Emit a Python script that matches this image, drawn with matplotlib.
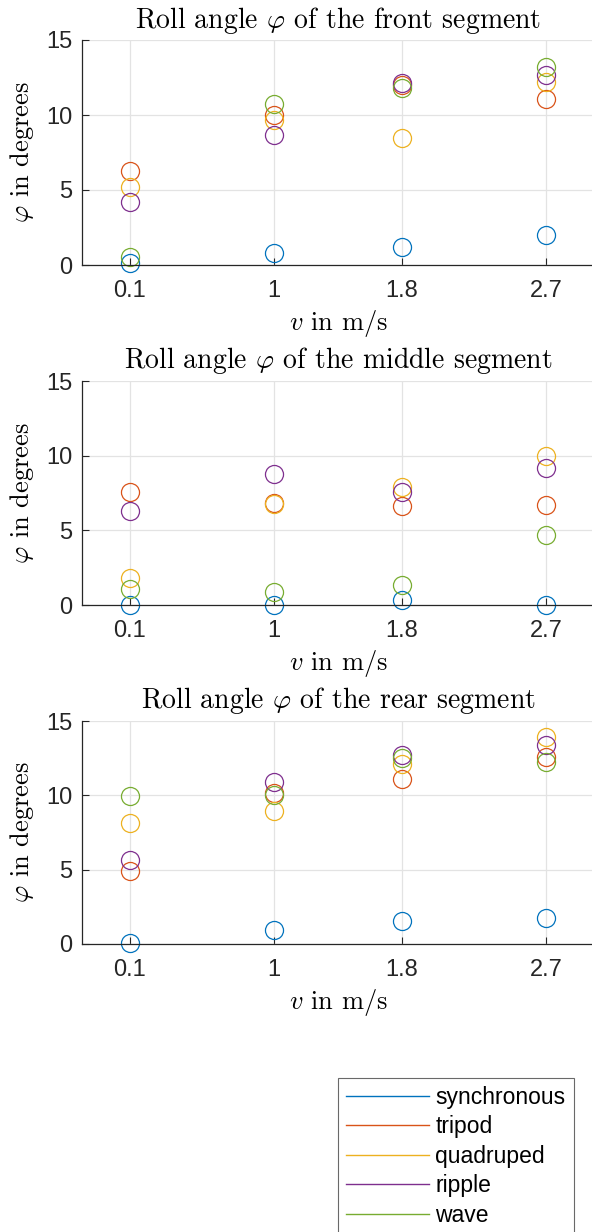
import matplotlib
matplotlib.use('Agg')
import matplotlib.pyplot as plt
from matplotlib.lines import Line2D

plt.rcParams['font.family'] = ['Liberation Sans', 'DejaVu Sans']
plt.rcParams['mathtext.fontset'] = 'cm'

speeds = [0.1, 1, 1.8, 2.7]
gaits = ['synchronous', 'tripod', 'quadruped', 'ripple', 'wave']
colors = ['#0072BD', '#D95319', '#EDB120', '#7E2F8E', '#77AC30']
segments = ['front', 'middle', 'rear']

# roll angle in degrees, one list per gait, values per speed
front = {
    'synchronous': [0.13, 0.8, 1.18, 2.0],
    'tripod': [6.29, 10.0, 12.02, 11.04],
    'quadruped': [5.22, 9.67, 8.44, 12.18],
    'ripple': [4.22, 8.64, 12.11, 12.69],
    'wave': [0.51, 10.73, 11.8, 13.22],
}
middle = {
    'synchronous': [0.0, 0.0, 0.31, 0.0],
    'tripod': [7.6, 6.82, 6.64, 6.69],
    'quadruped': [1.82, 6.78, 7.93, 9.96],
    'ripple': [6.27, 8.76, 7.56, 9.16],
    'wave': [1.09, 0.84, 1.33, 4.71],
}
rear = {
    'synchronous': [0.09, 0.92, 1.54, 1.77],
    'tripod': [4.88, 10.18, 11.1, 12.55],
    'quadruped': [8.17, 8.97, 12.1, 13.94],
    'ripple': [5.66, 10.92, 12.73, 13.38],
    'wave': [9.98, 10.02, 12.51, 12.21],
}
data = [front, middle, rear]

W, H = 592, 1232
fig = plt.figure(figsize=(W / 100, H / 100), dpi=100)

axis_color = '#262626'
tops = [40, 381, 721]
bottoms = [265, 605, 944]
cm = 'cmr10'

for k in range(3):
    ax = fig.add_axes([82 / W, 1 - bottoms[k] / H, 512 / W, (bottoms[k] - tops[k]) / H])
    for g, c in zip(gaits, colors):
        ax.plot(speeds, data[k][g], 'o', mfc='none', mec=c, ms=13, mew=0.9, clip_on=False)
    ax.set_xlim(-0.2, 3.0)
    ax.set_ylim(0, 15)
    ax.set_xticks(speeds)
    ax.set_xticklabels(['0.1', '1', '1.8', '2.7'])
    ax.set_yticks([0, 5, 10, 15])
    ax.grid(True, color='#e3e3e3', lw=0.9)
    ax.set_axisbelow(True)
    for s in ['top', 'right']:
        ax.spines[s].set_visible(False)
    for s in ['left', 'bottom']:
        ax.spines[s].set_color(axis_color)
        ax.spines[s].set_linewidth(0.9)
    ax.tick_params(direction='in', length=5, width=0.8, colors=axis_color, labelsize=17)
    ax.tick_params(axis='x', pad=11)
    ax.tick_params(axis='y', pad=7)
    ax.set_title('Roll angle $\\varphi$ of the ' + segments[k] + ' segment',
                 fontsize=20, fontfamily=cm, pad=9, color='black')
    ax.set_xlabel('$v$ in m/s', fontsize=19, fontfamily=cm, labelpad=4)
    ax.set_ylabel('$\\varphi$ in degrees', fontsize=19, fontfamily=cm, labelpad=7)

handles = [Line2D([0], [0], color=c, lw=1) for c in colors]
leg = fig.legend(handles, gaits, loc='upper left', bbox_to_anchor=(338 / W, 1 - 1078 / H),
                 fontsize=16.5, frameon=True, fancybox=False, handlelength=3.6,
                 handletextpad=0.3, labelspacing=0.28, borderpad=0.35, borderaxespad=0)
leg.get_frame().set_edgecolor('#444444')
leg.get_frame().set_linewidth(0.8)

fig.savefig('out.png', dpi=100)
